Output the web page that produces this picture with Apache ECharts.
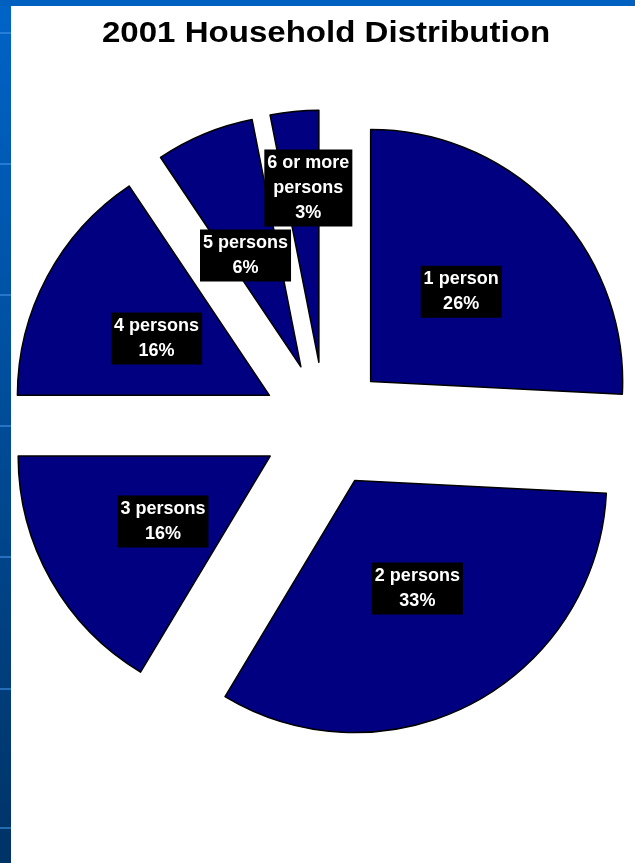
<!DOCTYPE html>
<html>
<head>
<meta charset="utf-8">
<title>2001 Household Distribution</title>
<script src="https://cdn.jsdelivr.net/npm/echarts@6/dist/echarts.min.js"></script>
<style>
  html, body { margin: 0; padding: 0; background: #fff; }
  #chart { width: 635px; height: 863px; }
</style>
</head>
<body>
<div id="chart"></div>
<script>
// household size categories and share of households (%)
const categories = ["1 person", "2 persons", "3 persons", "4 persons", "5 persons", "6 or more\npersons"];
const shares = [25.8, 32.8, 16.4, 15.6, 6.3, 3.1];

const chart = echarts.init(document.getElementById("chart"));

// slide decoration: faint lines on the left band
const bandLines = [32, 163, 294, 425, 556, 688, 827];

// small nudges so the label boxes sit where the original put them
const labelNudge = [[-3, -1], [2, -6], [5, 2], [1, 4], [-6, 8], [2, -46]];

const sliceStyle = { color: "#000080", borderColor: "#000", borderWidth: 1.5 };

const options = {
  animation: false,
  backgroundColor: "#fff",
  graphic: [
    {
      type: "rect",
      shape: { x: 0, y: 0, width: 11, height: 863 },
      style: {
        fill: new echarts.graphic.LinearGradient(0, 0, 0, 1, [
          { offset: 0, color: "#0064c8" },
          { offset: 1, color: "#003366" },
        ]),
      },
      silent: true,
    },
    {
      type: "rect",
      shape: { x: 0, y: 0, width: 635, height: 6 },
      style: { fill: "#0060c0" },
      silent: true,
    },
    ...bandLines.map((y) => ({
      type: "rect",
      shape: { x: 0, y: y, width: 11, height: 2 },
      style: { fill: "rgba(70,150,235,0.55)" },
      silent: true,
    })),
    {
      type: "text",
      x: 326,
      y: 34,
      scaleX: 1.14,
      style: {
        text: "2001 Household Distribution",
        font: 'bold 29px "Liberation Sans", Arial, sans-serif',
        fill: "#000",
        align: "center",
        verticalAlign: "middle",
      },
      silent: true,
    },
  ],
  series: [
    {
      type: "pie",
      center: [325, 425],
      radius: 252,
      startAngle: 90,
      clockwise: true,
      selectedMode: "multiple",
      selectedOffset: 63,
      avoidLabelOverlap: false,
      data: categories.map((name, i) => ({ name: name, value: shares[i], selected: true })),
      itemStyle: sliceStyle,
      select: { itemStyle: sliceStyle },
      emphasis: { scale: false, itemStyle: sliceStyle },
      labelLine: { show: false },
      label: {
        show: true,
        position: "inside",
        formatter: (p) => p.name + "\n" + Math.round(p.value) + "%",
        color: "#fff",
        backgroundColor: "#000",
        fontFamily: '"Liberation Sans", Arial, sans-serif',
        fontWeight: "bold",
        fontSize: 18,
        lineHeight: 25,
        padding: [1, 3],
        align: "center",
      },
      labelLayout: (params) => {
        const n = labelNudge[params.dataIndex];
        return { dx: n[0], dy: n[1] };
      },
    },
  ],
};

chart.setOption(options);
</script>
</body>
</html>
